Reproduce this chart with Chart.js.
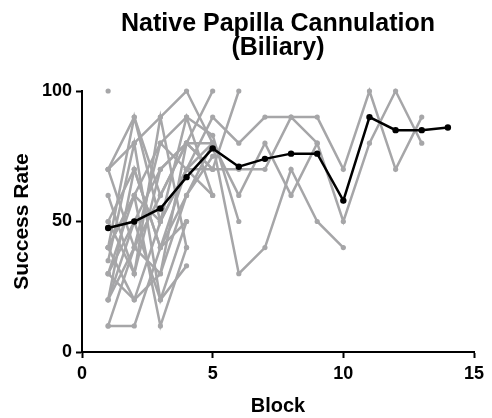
<!DOCTYPE html>
<html>
<head>
<meta charset="utf-8">
<script src="https://cdn.jsdelivr.net/npm/chart.js@4/dist/chart.umd.min.js"></script>
<style>
html,body{margin:0;padding:0;background:#fff;}
#wrap{position:relative;width:492px;height:418px;}
</style>
</head>
<body>
<div id="wrap"><canvas id="c" width="492" height="418"></canvas></div>
<script>
const chartTitle = ["Native Papilla Cannulation", "(Biliary)"];
const xTitle = "Block";
const yTitle = "Success Rate";
const blocks = [1,2,3,4,5,6,7,8,9,10,11,12,13,14];
const meanRate = [47.5,50,55,67,78,71,74,76,76,58,90,85,85,86];
const xTicks = [0,5,10,15];
const yTicks = [0,50,100];

const trainee01 = [40,60,50,70,90,80,90,90,90,70,100,70,90];
const trainee02 = [30,50,70,80,70,70,70,90,80,50,80,100,80];
const trainee03 = [20,40,60,80,80,30,40,70,50,40];
const trainee04 = [50,70,40,70,80,60,80,60,80];
const trainee05 = [70,90,60,80,70,100];
const trainee06 = [30,60,80,90,83,50];
const trainee07 = [100];
const trainee08 = [70,80,90,100,80];
const trainee09 = [50,30,70,80,100];
const trainee10 = [40,90,50,90,60];
const trainee11 = [20,70,40,60,80];
const trainee12 = [10,40,80,70,70];
const trainee13 = [30,20,50,70,60];
const trainee14 = [60,30,90,40];
const trainee15 = [40,20,30,60,75];
const trainee16 = [20,50,20,33];
const trainee17 = [10,10,40,50];
const trainee18 = [40,60,10,40];
const trainee19 = [70,40,30,80];
const trainee20 = [35,80,20,50];

const trainees = [trainee01,trainee02,trainee03,trainee04,trainee05,trainee06,trainee07,trainee08,trainee09,trainee10,
  trainee11,trainee12,trainee13,trainee14,trainee15,trainee16,trainee17,trainee18,trainee19,trainee20];

const GRAY = '#a6a6a8';
const FONT = "'Liberation Sans', Arial, Helvetica, sans-serif";
const toPts = arr => arr.map((v,i)=>({x:blocks[i], y:v}));

const datasets = [{
  label:'Mean', data: toPts(meanRate), borderColor:'#000', backgroundColor:'#000',
  borderWidth:2.5, pointRadius:3.2, pointBorderWidth:0, tension:0
}];
trainees.forEach((t,i)=>datasets.push({
  label:'Trainee '+(i+1), data: toPts(t), borderColor:GRAY, backgroundColor:GRAY,
  borderWidth:2.5, pointRadius:2.6, pointBorderWidth:0, tension:0
}));

const titlePlugin = {
  id:'centerTitle',
  afterDraw(chart){
    const {ctx, chartArea} = chart;
    const cx = (chartArea.left + chartArea.right)/2;
    ctx.save();
    ctx.fillStyle = '#000';
    ctx.font = "bold 25px " + FONT;
    ctx.textAlign = 'center';
    ctx.textBaseline = 'alphabetic';
    ctx.fillText(chartTitle[0], cx, 31);
    ctx.fillText(chartTitle[1], cx, 55);
    ctx.restore();
  }
};

new Chart(document.getElementById('c'), {
  type:'line',
  data:{datasets},
  plugins:[titlePlugin],
  options:{
    responsive:false,
    animation:false,
    clip:false,
    layout:{padding:{left:0,right:18,top:91,bottom:0}},
    plugins:{legend:{display:false}, tooltip:{enabled:false}, title:{display:false}},
    scales:{
      x:{
        type:'linear', min:0, max:15,
        afterBuildTicks(s){ s.ticks = xTicks.map(v=>({value:v})); },
        afterFit(s){ s.height = 66; },
        grid:{drawOnChartArea:false, drawTicks:true, tickLength:6, tickWidth:2, color:'#000'},
        border:{display:true, color:'#000', width:2},
        ticks:{color:'#000', font:{family:FONT, size:18, weight:'bold'}, padding:5, maxRotation:0},
        title:{display:true, text:xTitle, color:'#000', font:{family:FONT, size:20, weight:'bold'}, padding:{top:4,bottom:0}}
      },
      y:{
        type:'linear', min:0, max:100,
        afterBuildTicks(s){ s.ticks = yTicks.map(v=>({value:v})); },
        afterFit(s){ s.width = 82; },
        grid:{drawOnChartArea:false, drawTicks:true, tickLength:6, tickWidth:2, color:'#000'},
        border:{display:true, color:'#000', width:2},
        ticks:{color:'#000', font:{family:FONT, size:18, weight:'bold'}, padding:4},
        title:{display:true, text:yTitle, color:'#000', font:{family:FONT, size:21, weight:'bold'}, padding:{top:10,bottom:0}}
      }
    }
  }
});
</script>
</body>
</html>
